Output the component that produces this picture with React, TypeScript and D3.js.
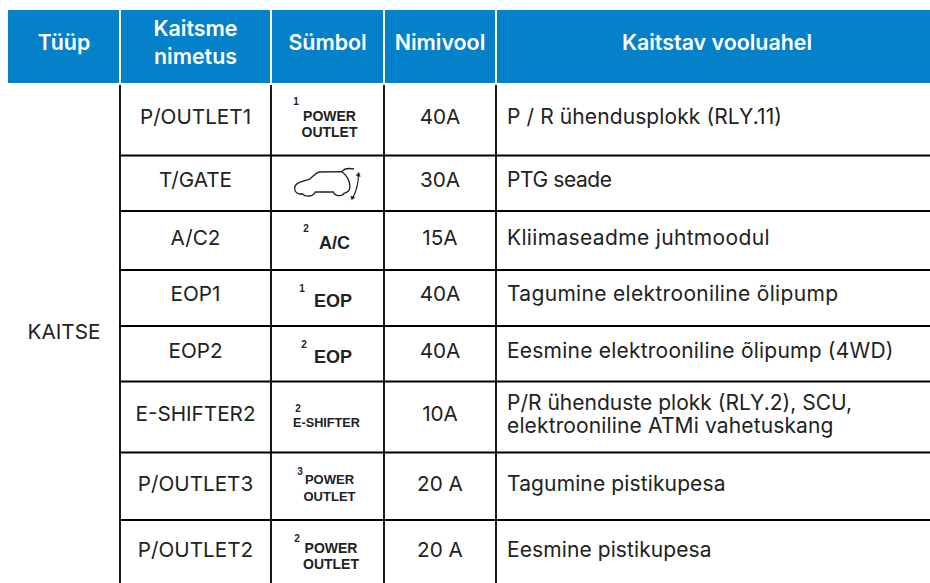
import React, {useEffect, useRef} from 'react';
import * as d3 from 'd3';

const headers = [['Tüüp'], ['Kaitsme', 'nimetus'], ['Sümbol'], ['Nimivool'], ['Kaitstav vooluahel']];
const typeLabel = 'KAITSE';
const fuseNames = ['P/OUTLET1', 'T/GATE', 'A/C2', 'EOP1', 'EOP2', 'E-SHIFTER2', 'P/OUTLET3', 'P/OUTLET2'];
const ratings = ['40A', '30A', '15A', '40A', '40A', '10A', '20 A', '20 A'];
const circuits = [
    ['P / R ühendusplokk (RLY.11)'],
    ['PTG seade'],
    ['Kliimaseadme juhtmoodul'],
    ['Tagumine elektrooniline õlipump'],
    ['Eesmine elektrooniline õlipump (4WD)'],
    ['P/R ühenduste plokk (RLY.2), SCU,', 'elektrooniline ATMi vahetuskang'],
    ['Tagumine pistikupesa'],
    ['Eesmine pistikupesa'],
];
const symbolIndex = ['1', '', '2', '1', '2', '2', '3', '2'];
const symbolText = [['POWER', 'OUTLET'], [], ['A/C'], ['EOP'], ['EOP'], ['E-SHIFTER'], ['POWER', 'OUTLET'], ['POWER', 'OUTLET']];

// layout
const W = 930, H = 583;
const headTop = 10, headBottom = 83;
const colEdges = [8, 120, 271, 384, 496, 930];
const rowEdges = [85, 155.5, 211, 270, 326, 381.5, 452.5, 520, 583];
const headCx = [64, 195.5, 327.5, 440, 717];
const nameBase = [124, 187, 244.5, 301, 358, 421, 491, 557];
const circuitBase = [[124], [187], [244.5], [301], [358], [410, 433], [491], [557]];
const circuitWidth = [[275], [105], [262.5], [331], [386.5], [345, 326.5], [218.5], [204.5]];
const symCx = [329.5, 0, 334.5, 333, 333, 326.5, 329.5, 331];
const symSize = [14, 0, 18, 18, 18, 12.7, 13, 14];
const symBase = [[121, 137], [], [249], [307], [363], [427], [484, 501], [553, 569]];
const supX = [296, 0, 306, 302, 304, 298, 300, 297];
const supBase = [105, 0, 232, 292, 348, 412, 475, 542];

const uiFont = 'Inter, "Noto Sans", sans-serif';
const symFont = '"Liberation Sans", Arial, sans-serif';
const ink = '#222';

const App = () => {
    const ref = useRef<SVGSVGElement>(null);

    useEffect(() => {
        document.body.style.margin = '0';
        const svg = d3.select(ref.current);
        svg.selectAll('*').remove();
        svg.append('rect').attr('width', W).attr('height', H).attr('fill', '#fff');

        const cols = d3.range(headers.length);
        const x0 = d3.scaleOrdinal<number, number>().domain(cols).range(colEdges.slice(0, 5));
        const x1 = d3.scaleOrdinal<number, number>().domain(cols).range(colEdges.slice(1));
        const cx = (c: number) => (x0(c) + x1(c)) / 2;

        // header
        const head = svg.append('g');
        head.selectAll('rect').data(cols).enter().append('rect')
            .attr('x', c => x0(c) + (c === 0 ? 0 : 1))
            .attr('y', headTop)
            .attr('width', c => x1(c) - x0(c) - (c === 0 ? 1 : c === 4 ? 1 : 2))
            .attr('height', headBottom - headTop)
            .attr('fill', '#0481c8');
        cols.forEach(c => {
            const lines = headers[c];
            lines.forEach((t, i) => {
                head.append('text')
                    .attr('x', headCx[c])
                    .attr('y', lines.length === 1 ? 50 : 36 + i * 28)
                    .attr('text-anchor', 'middle')
                    .attr('font-family', uiFont)
                    .attr('font-weight', 600)
                    .attr('font-size', 21.4)
                    .attr('fill', '#fff')
                    .text(t);
            });
        });

        // grid
        const grid = svg.append('g').attr('stroke', '#000').attr('stroke-width', 1.8);
        grid.selectAll('.v').data(colEdges.slice(1, 5)).enter().append('line')
            .attr('class', 'v')
            .attr('x1', d => d).attr('x2', d => d)
            .attr('y1', rowEdges[0]).attr('y2', H);
        grid.selectAll('.h').data(rowEdges.slice(1, 8)).enter().append('line')
            .attr('class', 'h')
            .attr('x1', colEdges[1] - 1).attr('x2', W)
            .attr('y1', d => d).attr('y2', d => d);

        const body = svg.append('g')
            .attr('font-family', uiFont)
            .attr('font-size', 20.7)
            .attr('fill', ink);

        body.append('text').attr('x', cx(0)).attr('y', 339).attr('text-anchor', 'middle').text(typeLabel);
        body.selectAll('.name').data(fuseNames).enter().append('text')
            .attr('class', 'name')
            .attr('x', cx(1))
            .attr('y', (_, i) => nameBase[i])
            .attr('text-anchor', 'middle')
            .text(d => d);
        body.selectAll('.rating').data(ratings).enter().append('text')
            .attr('class', 'rating')
            .attr('x', cx(3))
            .attr('y', (_, i) => nameBase[i])
            .attr('text-anchor', 'middle')
            .text(d => d);
        circuits.forEach((lines, r) => {
            lines.forEach((t, i) => {
                body.append('text')
                    .attr('x', 507)
                    .attr('y', circuitBase[r][i])
                    .attr('font-size', 21)
                    .attr('textLength', circuitWidth[r][i])
                    .text(t);
            });
        });

        // printed fuse symbols
        const sym = svg.append('g').attr('font-family', symFont).attr('font-weight', 700).attr('fill', ink);
        symbolText.forEach((lines, r) => {
            lines.forEach((t, i) => {
                sym.append('text')
                    .attr('x', symCx[r])
                    .attr('y', symBase[r][i])
                    .attr('text-anchor', 'middle')
                    .attr('font-size', symSize[r])
                    .text(t);
            });
            if (symbolIndex[r]) {
                sym.append('text')
                    .attr('x', supX[r])
                    .attr('y', supBase[r])
                    .attr('text-anchor', 'middle')
                    .attr('font-size', 10)
                    .text(symbolIndex[r]);
            }
        });

        // tailgate icon in the T/GATE row
        const icon = svg.append('g')
            .attr('transform', 'translate(260,130) scale(0.3333)')
            .attr('fill', 'none')
            .attr('stroke', ink)
            .attr('stroke-width', 4);
        icon.append('path').attr('d',
            'M120 192 C108 190 103 182 104 172 C106 160 118 156 148 148 C160 138 168 128 178 126 L246 125 C258 134 268 150 270 168 C270 180 262 188 252 190 C248 200 226 200 220 186 L166 186 C160 200 136 202 128 192 Z');
        icon.append('path').attr('d', 'M246 125 C252 116 266 114 282 117');
        icon.append('path').attr('d', 'M295 132 C296 160 288 186 277 206').attr('stroke-width', 3.5);
        icon.append('path').attr('d', 'M288 136 L297 127 L301 140 Z').attr('fill', ink).attr('stroke-width', 1);
        icon.append('path').attr('d', 'M272 198 L275 210 L285 202 Z').attr('fill', ink).attr('stroke-width', 1);
    }, []);

    return <svg ref={ref} width={W} height={H} style={{display: 'block', position: 'absolute', left: 0, top: 0}}/>;
};

export default App;
